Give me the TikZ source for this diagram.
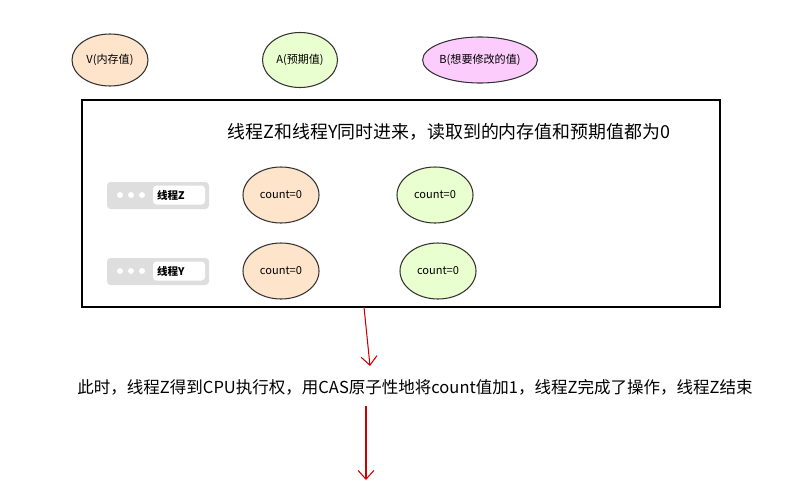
\documentclass[tikz,border=0pt]{standalone}
\usepackage{fontspec}
\newfontfamily\cjk{Noto Sans CJK SC}
\usetikzlibrary{arrows.meta,shapes.geometric}

\begin{document}
\begin{tikzpicture}[x=0.02cm, y=-0.02cm,
    bubble/.style={ellipse, draw=black!80, line width=0.6pt, inner sep=0pt, font=\cjk\fontsize{6.3}{7}\selectfont},
    flow/.style={draw=red!80!black, line width=0.6pt, -{Straight Barb[length=5pt,width=9pt]}}]
  % Define bubble colors
  \definecolor{memcol}{RGB}{255,228,204}
  \definecolor{expcol}{RGB}{234,255,208}
  \definecolor{newcol}{RGB}{252,204,252}
  \definecolor{bargray}{RGB}{222,222,222}

  \useasboundingbox (0,0) rectangle (786,480);

  % Legend bubbles
  \node[bubble, fill=memcol, minimum width=76*0.02cm, minimum height=52*0.02cm] (vmem) at (110,60) {V(内存值)};
  \node[bubble, fill=expcol, minimum width=75*0.02cm, minimum height=55*0.02cm] (aexp) at (300,60) {A(预期值)};
  \node[bubble, fill=newcol, minimum width=108*0.02cm, minimum height=46*0.02cm] (bnew) at (480,60) {B(想要修改的值)};

  % Main frame
  \draw[line width=0.7pt] (82,100) rectangle (720,307);
  \node[font=\cjk\fontsize{10.2}{12}\selectfont] (title) at (449,132) {线程Z和线程Y同时进来，读取到的内存值和预期值都为0};

  % Thread bars
  \foreach \t/\y/\gx in {Z/195/435,Y/271/438} {
    \fill[bargray, rounded corners=2pt] (107,\y-13) rectangle (209,\y+14);
    \foreach \d in {120,131,142}
      \fill[white] (\d,\y) circle (3);
    \node[fill=white, rounded corners=2pt, minimum width=52*0.02cm, minimum height=19*0.02cm,
          inner sep=1pt, text width=44*0.02cm, font=\cjk\bfseries\fontsize{6}{7}\selectfont] (th\t) at (179,\y) {线程\t};
    \node[bubble, fill=memcol, minimum width=76*0.02cm, minimum height=56*0.02cm] (mem\t) at (281,\y) {count=0};
    \node[bubble, fill=expcol, minimum width=76*0.02cm, minimum height=56*0.02cm] (exp\t) at (\gx,\y) {count=0};
  }

  % Step text and arrows
  \node[font=\cjk\fontsize{9.4}{11}\selectfont] (step) at (415,387) {此时，线程Z得到CPU执行权，用CAS原子性地将count值加1，线程Z完成了操作，线程Z结束};
  \coordinate (top) at (364,307);
  \coordinate (stepin) at (370,366);
  \coordinate (stepout) at (366,406);
  \coordinate (next) at (366,480);
  \draw[flow] (top) -- (stepin);
  \draw[flow] (stepout) -- (next);
\end{tikzpicture}
\end{document}
